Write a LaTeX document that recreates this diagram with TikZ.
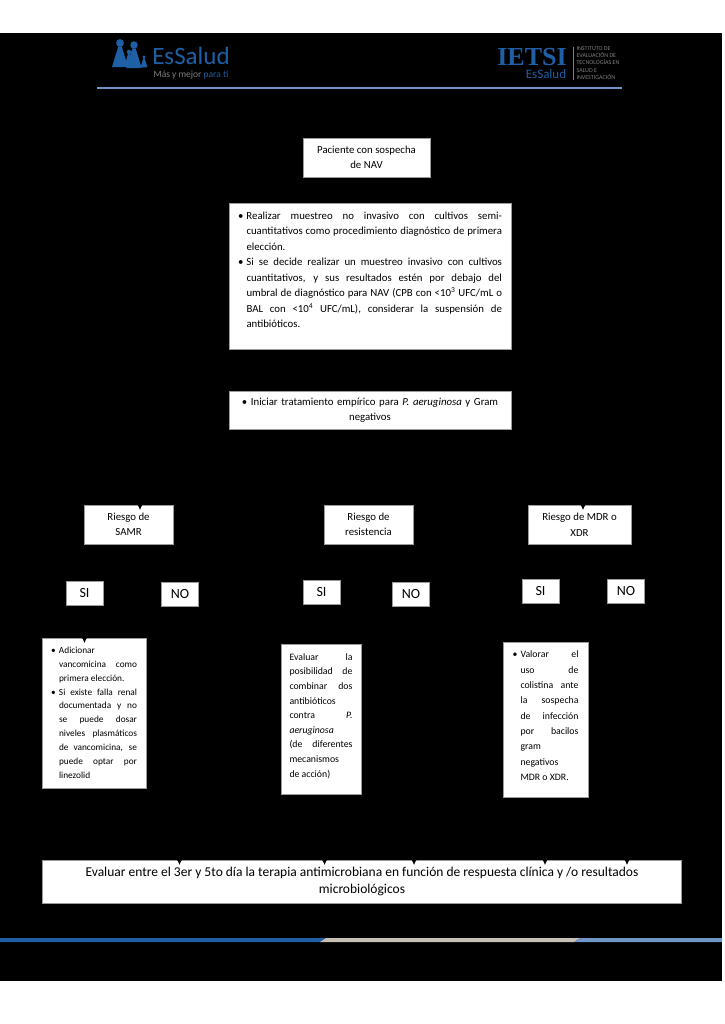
\documentclass[tikz,border=0pt]{standalone}
\usepackage{fontspec}
\setmainfont{Carlito}
\newfontfamily\logoserif{Liberation Serif}
\usetikzlibrary{arrows.meta}
\definecolor{logoblue}{HTML}{1F5FA5}
\definecolor{linegray}{HTML}{9A9A9A}
\definecolor{stripblue}{HTML}{1F5FA5}
\definecolor{stripsand}{HTML}{C8C0B5}
\definecolor{stripsky}{HTML}{7096C8}
\newcommand{\bulitem}[1]{\par\noindent\hangindent=#1\hangafter=1\hbox to #1{\textbullet\hss}\ignorespaces}
\newcommand{\boxfoot}[1]{\par\nointerlineskip\noindent\rule{0pt}{#1}}
\tikzset{
    box/.style={fill=white, draw=linegray, line width=0.5pt, inner sep=0pt, align=center, font=\fontsize{10.8}{15.5}\selectfont},
    longbox/.style={box, align=justify, text width=#1},
    answer/.style={box, minimum width=37pt, minimum height=24pt, font=\fontsize{14}{15}\selectfont},
    flow/.style={-{Latex[length=6pt,width=6pt]}, black, thick, shorten <=1pt},
    flowin/.style={flow, shorten >=-5pt},
    logotext/.style={inner sep=0pt},
    person/.style={fill=logoblue, draw=none}
}
\begin{document}
\begin{tikzpicture}[x=1pt,y=-1pt]
            \useasboundingbox (0,0) rectangle (724,1024);
            \fill[white] (0,0) rectangle (724,1024);
            \fill[black] (0,33) rectangle (722,981);

            % logos
            \foreach \px/\py/\ps in {120/43/1.15,134/45/1.1,129/52/0.65,144/57/0.5}{
                \fill[person] (\px,\py) circle (3.4*\ps);
                \fill[person] (\px-7*\ps,\py+21*\ps) -- (\px-1.5*\ps,\py+3*\ps) -- (\px+1.5*\ps,\py+3*\ps) -- (\px+7*\ps,\py+21*\ps) -- cycle;
            }
            \node(essalud) at (191,56) [logotext, text=logoblue, font=\fontsize{25}{25}\selectfont] {EsSalud};
            \node(tagline) at (191,75) [logotext, font=\fontsize{9.5}{10}\selectfont] {\textcolor{gray}{Más y mejor} \textcolor{logoblue}{para ti}};
            \node(ietsi) at (532,57) [logotext, text=logoblue, font=\logoserif\bfseries\fontsize{26}{26}\selectfont] {IETSI};
            \node(ietsi_essalud) at (546,74.5) [logotext, text=logoblue, font=\fontsize{13}{13}\selectfont] {EsSalud};
            \node(ietsi_name) at (598,63) [logotext, text=gray, align=left, font=\fontsize{6}{7.2}\selectfont] {INSTITUTO DE\\EVALUACIÓN DE\\TECNOLOGÍAS EN\\SALUD E\\INVESTIGACIÓN};
            \draw[gray, line width=0.5pt] (573,47) -- (573,80);
            \draw[stripsky, line width=1.2pt] (97,88) -- (622,88);

            % flow boxes
            \node(paciente) at (366.5,157.5) [box, minimum width=127pt, minimum height=39pt] {Paciente con sospecha\\de NAV};
            \node(muestreo) at (370,276) [box, minimum width=282pt, minimum height=146pt, longbox=264pt] {
                \bulitem{8.5pt}Realizar muestreo no invasivo con cultivos semi-\linebreak cuantitativos como procedimiento diagnóstico de primera elección.
                \bulitem{8.5pt}Si se decide realizar un muestreo invasivo con cultivos\linebreak cuantitativos, y sus resultados estén por debajo del\linebreak umbral de diagnóstico para NAV (CPB con <10\textsuperscript{3} UFC/mL o\linebreak BAL con <10\textsuperscript{4} UFC/mL), considerar la suspensión de\linebreak antibióticos.\boxfoot{20pt}};
            \node(tratamiento) at (370,410) [box, minimum width=282pt, minimum height=38pt, text width=264pt] {\textbullet\ Iniciar tratamiento empírico para \textit{P. aeruginosa} y Gram\\negativos};

            \node(riesgo_samr) at (128.5,524.5) [box, minimum width=89pt, minimum height=39pt] {Riesgo de\\SAMR};
            \node(riesgo_res) at (368.5,524.5) [box, minimum width=89pt, minimum height=39pt] {Riesgo de\\resistencia};
            \node(riesgo_mdr) at (579.5,524.5) [box, minimum width=103pt, minimum height=39pt] {Riesgo de MDR o\\XDR};

            \node(si_samr) at (84.5,593) [answer] {SI};
            \node(no_samr) at (180,594) [answer] {NO};
            \node(si_res) at (321.5,592) [answer] {SI};
            \node(no_res) at (411,594) [answer] {NO};
            \node(si_mdr) at (540.5,591) [answer] {SI};
            \node(no_mdr) at (626,591) [answer] {NO};

            \node(trat_samr) at (94,713) [box, minimum width=104pt, minimum height=150pt, longbox=86pt, font=\fontsize{9.3}{13.9}\selectfont] {
                \bulitem{8pt}Adicionar\linebreak vancomicina como\linebreak primera elección.
                \bulitem{8pt}Si existe falla renal\linebreak documentada y no\linebreak se puede dosar\linebreak niveles plasmáticos\linebreak de vancomicina, se\linebreak puede optar por\linebreak linezolid\boxfoot{8pt}};
            \node(trat_res) at (321,719) [box, minimum width=80pt, minimum height=150pt, longbox=63pt, font=\fontsize{9.8}{14.6}\selectfont] {
                \noindent Evaluar la\linebreak posibilidad de\linebreak combinar dos\linebreak antibióticos\hfill\linebreak contra \textit{P.}\linebreak \textit{aeruginosa}\hfill\linebreak (de diferentes\linebreak mecanismos\hfill\linebreak de acción)\boxfoot{6pt}};
            \node(trat_mdr) at (545.5,719.5) [box, minimum width=85pt, minimum height=155pt, longbox=66pt, font=\fontsize{9.8}{15.3}\selectfont] {
                \bulitem{8pt}Valorar el\linebreak uso de\linebreak colistina ante\linebreak la sospecha\linebreak de infección\linebreak por bacilos\linebreak gram\hfill\linebreak negativos\hfill\linebreak MDR o XDR.\boxfoot{16pt}};

            \node(evaluar) at (362,881.5) [box, minimum width=639pt, minimum height=43pt, font=\fontsize{13.5}{16.7}\selectfont] {Evaluar entre el 3er y 5to día la terapia antimicrobiana en función de respuesta clínica y /o resultados\\microbiológicos};

            \coordinate(bus) at (370,470);
            \coordinate(top_samr) at (140,505);
            \coordinate(top_mdr) at (583,505);
            \coordinate(top_trat_samr) at (84.5,638);
            \coordinate(end_samr) at (94,860);
            \coordinate(end_no_samr) at (179.5,860);
            \coordinate(end_res) at (324.5,860);
            \coordinate(end_no_res) at (414,860);
            \coordinate(end_mdr) at (545,860);
            \coordinate(end_no_mdr) at (627,860);

            \draw[flow] (paciente) -- (muestreo);
            \draw[flow] (muestreo) -- (tratamiento);
            \draw[flow] (tratamiento) -- (riesgo_res);
            \draw[flowin] (tratamiento) |- (bus) -| (top_samr);
            \draw[flowin] (tratamiento) |- (bus) -| (top_mdr);
            \draw[flow] (riesgo_samr) -- (si_samr);
            \draw[flow] (riesgo_samr) -- (no_samr);
            \draw[flow] (riesgo_res) -- (si_res);
            \draw[flow] (riesgo_res) -- (no_res);
            \draw[flow] (riesgo_mdr) -- (si_mdr);
            \draw[flow] (riesgo_mdr) -- (no_mdr);
            \draw[flowin] (si_samr) -- (top_trat_samr);
            \draw[flow] (si_res) -- (trat_res);
            \draw[flow] (si_mdr) -- (trat_mdr);
            \draw[flow] (trat_samr) -- (end_samr);
            \draw[flowin] (no_samr) -- (end_no_samr);
            \draw[flowin] (trat_res) -- (end_res);
            \draw[flowin] (no_res) -- (end_no_res);
            \draw[flowin] (trat_mdr) -- (end_mdr);
            \draw[flowin] (no_mdr) -- (end_no_mdr);

            % bottom strip
            \fill[stripblue] (0,938) -- (326,938) -- (320,942) -- (0,942) -- cycle;
            \fill[stripsand] (326,938) -- (580,938) -- (574,942) -- (320,942) -- cycle;
            \fill[stripsky] (580,938) -- (722,938) -- (722,942) -- (574,942) -- cycle;
        \end{tikzpicture}
\end{document}
